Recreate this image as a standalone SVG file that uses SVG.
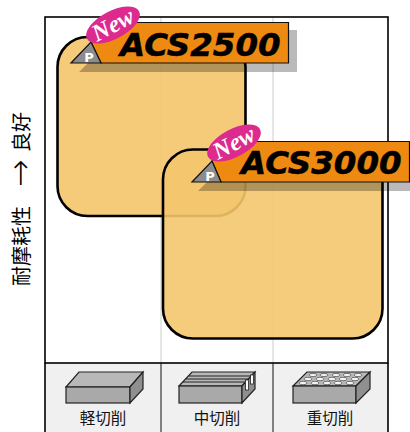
<svg xmlns="http://www.w3.org/2000/svg" width="410" height="432" viewBox="0 0 410 432">
<style>
.fr{fill:none;stroke:#000;stroke-width:1.6}
.gl{stroke:#ccc;stroke-width:1;fill:none}
.blob{fill:#f4c76e;stroke:#000;stroke-width:2.6}
.tag{fill:#ee8a12;stroke:#111;stroke-width:1.2}
.sh{fill:#000;fill-opacity:.27}
.tri{fill:#8c8c8c;stroke:#111;stroke-width:1.2}
.p{font:bold 13px "DejaVu Sans",sans-serif;fill:#fff;text-anchor:middle}
.name{font:italic bold 32.500px "DejaVu Sans",sans-serif;fill:#000;stroke:#000;stroke-width:.5}
.new{font:italic bold 24px "Liberation Serif",serif;fill:#fff;text-anchor:middle}
.oval{fill:#dd2a8f}
.cjk{font-family:"Noto Sans CJK JP",sans-serif;fill:#111}
.lab{text-anchor:middle;font-size:15.500px}
.side{font-size:20px;fill:#000}
.arrow{font:200 33px "DejaVu Sans",sans-serif;fill:#000}
.f1{fill:#a9a9a9;stroke:#222;stroke-width:1.200}
.f2{fill:#b8b8b8;stroke:#222;stroke-width:1.200}
.f3{fill:#8f8f8f;stroke:#222;stroke-width:1.200}
.hole{fill:#f4f4f4;stroke:#333;stroke-width:.6}
</style>
<rect x="45" y="363" width="343" height="69" fill="#f0f0f0"/>
<g id="grid">
<line class="gl" x1="161" y1="17" x2="161" y2="363"/>
<line class="gl" x1="273" y1="17" x2="273" y2="363"/>
</g>
<g id="node-acs2500">
<rect class="blob" x="57.500" y="37" width="188" height="179" rx="30" fill-opacity=".92"/>
</g>
<g id="node-acs3000">
<rect class="blob" x="163" y="149.500" width="219.500" height="189" rx="30" style="fill-opacity:.9;stroke:none"/>
<rect x="163" y="149.500" width="219.500" height="189" rx="30" fill="none" stroke="#000" stroke-width="2.600"/>
</g>
<g id="frame">
<rect class="fr" x="45" y="17" width="343" height="346"/>
<line class="fr" x1="45" y1="363" x2="45" y2="432"/>
<line class="fr" x1="388" y1="363" x2="388" y2="432"/>
<line x1="161" y1="363" x2="161" y2="432" stroke="#111" stroke-width="1"/>
<line x1="273" y1="363" x2="273" y2="432" stroke="#111" stroke-width="1"/>
</g>
<g id="tag-acs2500">
<polygon class="sh" points="79,72 88,63 101,63 288.500,63 288.500,30 297,30 297,72"/>
<polygon class="tag" points="101,63 91,42 105,22.500 288.500,22.500 288.500,63"/>
<polygon class="tri" points="71,63 101,63 91,42"/>
<text class="p" x="89" y="62">P</text>
<text class="name" x="120" y="56">ACS2500</text>
<g transform="translate(113,25) rotate(-28)">
<ellipse class="oval" cx="0" cy="0" rx="29.500" ry="14"/>
<text class="new" x="0" y="7.500">New</text>
</g>
</g>
<g id="tag-acs3000">
<polygon class="sh" points="198,191 207,182 409.500,182 409.500,149 418,149 418,191"/>
<polygon class="tag" points="221,182 212,161 226,141.500 409.500,141.500 409.500,182"/>
<polygon class="tri" points="192,182 221,182 212,161"/>
<text class="p" x="210" y="181">P</text>
<text class="name" x="241" y="174">ACS3000</text>
<g transform="translate(234,143) rotate(-28)">
<ellipse class="oval" cx="0" cy="0" rx="29.500" ry="14"/>
<text class="new" x="0" y="7.500">New</text>
</g>
</g>
<g id="block-light">
<polygon class="f2" points="66,387 79,372 143,372 130,387"/>
<rect class="f1" x="66" y="387" width="64" height="16"/>
<polygon class="f3" points="130,387 143,372 143,389 130,403"/>
</g>
<g id="block-mid">
<polygon class="f2" points="179,386 192,372 255,372 242,386"/>
<path d="M189,376H252M186,379H249M183,382H246" stroke="#222" stroke-width="1" fill="none"/>
<rect class="f1" x="179" y="386" width="63" height="17"/>
<polygon class="f3" points="242,386 255,372 255,389 242,403"/>
<rect x="245.500" y="380" width="3" height="10" fill="#fff" stroke="#222" stroke-width=".8"/>
<rect x="250.500" y="375" width="3" height="9" fill="#fff" stroke="#222" stroke-width=".8"/>
</g>
<g id="block-heavy">
<polygon class="f2" points="293,386 307,372 370,372 356,386"/>
<rect class="f1" x="293" y="386" width="63" height="17"/>
<polygon class="f3" points="356,386 370,372 370,389 356,403"/>
<g class="hole">
<ellipse cx="303" cy="383" rx="4" ry="1.700"/><ellipse cx="315" cy="383" rx="4" ry="1.700"/><ellipse cx="327" cy="383" rx="4" ry="1.700"/><ellipse cx="338" cy="383" rx="4" ry="1.700"/><ellipse cx="350" cy="383" rx="4" ry="1.700"/>
<ellipse cx="308" cy="379" rx="4" ry="1.700"/><ellipse cx="320" cy="379" rx="4" ry="1.700"/><ellipse cx="332" cy="379" rx="4" ry="1.700"/><ellipse cx="343" cy="379" rx="4" ry="1.700"/><ellipse cx="355" cy="379" rx="4" ry="1.700"/>
<ellipse cx="313" cy="375" rx="4" ry="1.600"/><ellipse cx="324" cy="375" rx="4" ry="1.600"/><ellipse cx="336" cy="375" rx="4" ry="1.600"/><ellipse cx="347" cy="375" rx="4" ry="1.600"/><ellipse cx="358" cy="375" rx="4" ry="1.600"/>
</g>
</g>
<g id="labels">
<text class="cjk lab" x="103" y="424">軽切削</text>
<text class="cjk lab" x="217" y="424">中切削</text>
<text class="cjk lab" x="330" y="424">重切削</text>
<text class="cjk side" transform="translate(29,286) rotate(-90)">耐摩耗性</text>
<text class="arrow" transform="translate(31,187) rotate(-90)">→</text>
<text class="cjk side" transform="translate(29,152) rotate(-90)">良好</text>
</g>
</svg>
